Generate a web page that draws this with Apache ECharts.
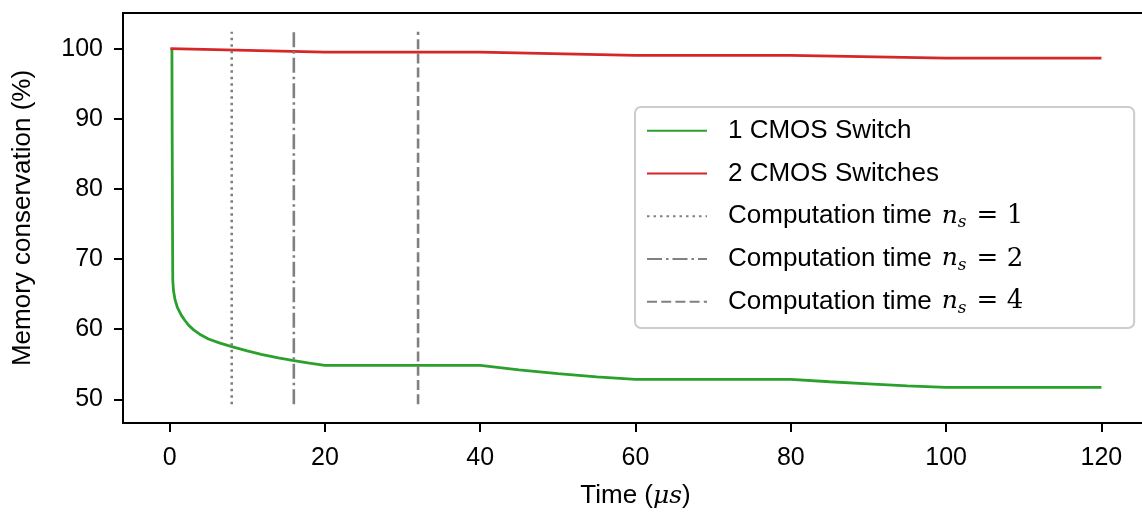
<!DOCTYPE html>
<html>
<head>
<meta charset="utf-8">
<title>Memory conservation</title>
<script src="https://cdn.jsdelivr.net/npm/echarts@6/dist/echarts.min.js"></script>
</head>
<body style="margin:0;padding:0;background:#fff">
<div id="chart" style="width:1142px;height:512px;"></div>
<script type="text/javascript">
var chart = echarts.init(document.getElementById('chart'));

// data
var oneSwitchTime  = [0.3, 0.33, 0.37, 0.41, 0.5, 0.7, 1.0, 1.5, 2.0, 2.5, 3.1, 4.0, 5.0, 6.5, 8.0, 10, 11.8, 14, 16, 18, 20, 40, 45, 50, 55, 60, 80, 85, 90, 95, 100, 120];
var oneSwitchValue = [100, 88, 76, 67, 65.5, 64.2, 63.1, 62.0, 61.2, 60.5, 59.9, 59.2, 58.6, 58.0, 57.5, 56.9, 56.4, 55.9, 55.5, 55.15, 54.85, 54.85, 54.2, 53.66, 53.2, 52.85, 52.85, 52.5, 52.2, 51.9, 51.7, 51.7];
var twoSwitchTime  = [0.1, 20, 40, 60, 80, 100, 120];
var twoSwitchValue = [100, 99.5, 99.5, 99.05, 99.05, 98.65, 98.65];
var computeNames = ['Computation time n_s = 1', 'Computation time n_s = 2', 'Computation time n_s = 4'];
var computeTimes = [8, 16, 32];
var computeSpan  = [49.3, 102.4];
var xTicks = [0, 20, 40, 60, 80, 100, 120];
var yTicks = [50, 60, 70, 80, 90, 100];

var dashTypes = [[2.5, 4], [15, 4, 2.5, 4], [10, 4.2]];
var font = 'Liberation Sans, Arial, Helvetica, sans-serif';
var serif = 'DejaVu Serif, Liberation Serif, serif';

function pairs(xs, ys) {
    return xs.map(function (x, i) { return [x, ys[i]]; });
}

var series = [{
    name: '1 CMOS Switch',
    type: 'line',
    data: pairs(oneSwitchTime, oneSwitchValue),
    symbol: 'none',
    lineStyle: { color: '#2ca02c', width: 2.8 },
    itemStyle: { color: '#2ca02c' }
}, {
    name: '2 CMOS Switches',
    type: 'line',
    data: pairs(twoSwitchTime, twoSwitchValue),
    symbol: 'none',
    lineStyle: { color: '#d62728', width: 2.8 },
    itemStyle: { color: '#d62728' }
}];
computeTimes.forEach(function (t, i) {
    series.push({
        name: computeNames[i],
        type: 'line',
        data: [[t, computeSpan[0]], [t, computeSpan[1]]],
        symbol: 'none',
        lineStyle: { color: '#808080', width: 2.6, type: dashTypes[i] },
        itemStyle: { color: '#808080' }
    });
});

var mathRich = {
    t: { fontFamily: font, fontSize: 26, color: '#000', lineHeight: 30 },
    n: { fontFamily: serif, fontStyle: 'italic', fontSize: 25, color: '#000', lineHeight: 30, padding: [0, 0, 0, 10] },
    s: { fontFamily: serif, fontStyle: 'italic', fontSize: 17, color: '#000', lineHeight: 18, verticalAlign: 'bottom' },
    e: { fontFamily: serif, fontSize: 26, color: '#000', lineHeight: 30, padding: [0, 0, 0, 10] }
};

option = {
    animation: false,
    grid: { left: 123, top: 13, right: -6, bottom: 89, show: true, borderColor: '#000', borderWidth: 2, outerBoundsMode: 'none' },
    legend: {
        orient: 'vertical',
        left: 635,
        top: 107,
        itemWidth: 60,
        itemHeight: 14,
        itemGap: 12.75,
        padding: [8.7, 111, 11.3, 11],
        backgroundColor: 'rgba(255,255,255,0.8)',
        borderColor: '#cccccc',
        borderWidth: 2,
        borderRadius: 6,
        itemStyle: { opacity: 0 },
        textStyle: { fontFamily: font, fontSize: 26, color: '#000', lineHeight: 30, padding: [0, 0, 0, 16], rich: mathRich },
        formatter: function (name) {
            var m = name.match(/^(.*) n_s = (\d)$/);
            if (m) return '{t|' + m[1] + '}{n|n}{s|s}{e|= ' + m[2] + '}';
            return name;
        },
        data: series.map(function (s) { return s.name; })
    },
    xAxis: {
        type: 'value',
        min: -6,
        max: 126,
        name: 'Time ({m|μs})',
        nameLocation: 'middle',
        nameGap: 60,
        nameTextStyle: {
            fontFamily: font, fontSize: 26, color: '#000',
            rich: { m: { fontFamily: serif, fontStyle: 'italic', fontSize: 25, color: '#000' } }
        },
        splitLine: { show: false },
        axisLine: { onZero: false, lineStyle: { color: '#000', width: 2 } },
        axisTick: { customValues: xTicks, length: 9, lineStyle: { color: '#000', width: 2 } },
        axisLabel: { customValues: xTicks, margin: 23, fontFamily: font, fontSize: 25, color: '#000' }
    },
    yAxis: {
        type: 'value',
        min: 46.62,
        max: 105.08,
        name: 'Memory conservation (%)',
        nameLocation: 'middle',
        nameGap: 87,
        nameTextStyle: { fontFamily: font, fontSize: 26, color: '#000' },
        splitLine: { show: false },
        axisLine: { show: true, onZero: false, lineStyle: { color: '#000', width: 2 } },
        axisTick: { show: true, customValues: yTicks, length: 9, lineStyle: { color: '#000', width: 2 } },
        axisLabel: { customValues: yTicks, margin: 20, fontFamily: font, fontSize: 25, color: '#000' }
    },
    series: series
};
chart.setOption(option);
</script>
</body>
</html>
